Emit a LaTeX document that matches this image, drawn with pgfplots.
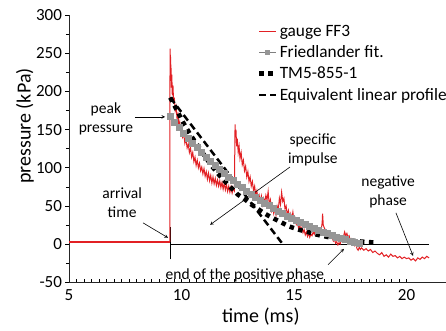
\documentclass[border=0pt]{standalone}
\usepackage{pgfplots}
\pgfplotsset{compat=1.18}
\usepackage{fontspec}
\setmainfont{Carlito}
\definecolor{gred}{RGB}{226,32,36}
\definecolor{fgray}{RGB}{150,150,150}
\definecolor{lgray}{RGB}{128,128,128}
\begin{document}
\begin{tikzpicture}
\begin{axis}[
  name=ax,
  scale only axis,
  width=376.9bp, height=267.2bp,
  xmin=5, xmax=21.75, ymin=-50, ymax=300,
  axis x line=bottom, axis y line=left,
  axis line style={-, line width=0.9bp, black!85},
  xtick={5,10,15,20}, ytick={-50,0,50,100,150,200,250,300},
  minor x tick num=14, minor y tick num=1,
  tick align=outside,
  major tick length=3.5bp, minor tick length=3bp,
  x tick style={yshift=3.2bp, line width=0.7bp, black},
  y tick style={line width=0.7bp, black},
  tick label style={font=\fontsize{17bp}{20bp}\selectfont},
  /pgf/number format/assume math mode=true,
  xlabel={time (ms)}, ylabel={pressure (kPa)},
  label style={font=\fontsize{20bp}{24bp}\selectfont},
  xlabel style={at={(axis description cs:0.509,-0.127)}, anchor=center},
  ylabel style={at={(axis description cs:-0.117,0.585)}, anchor=center},
  legend style={at={(axis cs:13.35,289)}, anchor=north west, draw=none, fill=none,
    font=\fontsize{17.3bp}{20bp}\selectfont, inner sep=0pt, row sep=5.5bp,
    nodes={inner sep=1.2bp}},
  legend cell align=left,
  clip=false,
]
% zero line and arrival marker
\addplot[black, line width=0.6bp, forget plot] coordinates {(9.49,0) (21.0,0)};
\addplot[black, line width=0.8bp, forget plot] coordinates {(9.49,-20) (9.49,23)};
% gauge FF3, before arrival (noise band)
\addplot[gred, line width=2.6bp, forget plot] coordinates {(5.0,3)(9.48,3)};
% gauge FF3
\addplot[gred, line width=1bp, legend image code/.code={\draw[draw=gred, line width=1.3bp] (0cm,0cm) -- (0.6cm,0cm);}] coordinates {
(9.48,3)
(9.49,256)(9.50,230)(9.51,248)(9.52,215)(9.53,235)(9.55,205)(9.57,222)(9.59,195)(9.62,208)
(9.65,185)(9.68,192)(9.72,175)(9.76,180)(9.80,165)(9.84,170)(9.88,155)(9.92,160)(9.96,148)
(10.00,152)(10.05,140)(10.10,144)(10.15,132)(10.20,138)(10.25,126)(10.30,131)(10.35,120)
(10.40,126)(10.45,114)(10.50,120)(10.55,108)(10.60,114)(10.65,103)(10.70,110)(10.75,100)
(10.80,106)(10.85,96)(10.90,101)(10.95,92)(11.00,99)(11.05,89)(11.10,95)(11.15,85)(11.20,93)
(11.25,83)(11.30,90)(11.35,80)(11.40,88)(11.45,79)(11.50,86)(11.55,77)(11.60,84)(11.65,76)
(11.70,83)(11.75,74)(11.80,81)(11.85,72)(11.90,80)(11.95,71)(12.00,78)(12.05,69)(12.10,76)
(12.15,68)(12.20,75)(12.25,67)(12.30,73)(12.35,70)(12.38,157)(12.40,140)(12.42,150)(12.45,128)
(12.48,138)(12.52,120)(12.56,128)(12.60,112)(12.65,120)(12.70,104)(12.75,110)(12.80,96)
(12.85,102)(12.90,88)(12.95,95)(13.00,82)(13.05,88)(13.10,76)(13.15,82)(13.20,70)(13.25,76)
(13.30,64)(13.35,70)(13.40,58)(13.45,64)(13.50,56)(13.55,63)(13.60,52)(13.65,60)(13.70,55)
(13.75,64)(13.80,58)(13.85,69)(13.90,52)(13.95,58)(14.00,44)(14.05,50)(14.10,40)(14.15,47)
(14.20,38)(14.25,50)(14.30,45)(14.35,60)(14.40,52)(14.45,68)(14.50,56)(14.55,60)(14.60,46)
(14.65,50)(14.70,38)(14.75,44)(14.80,35)(14.85,40)(14.90,33)(14.95,42)(15.00,30)(15.05,34)
(15.10,26)(15.15,30)(15.20,21)(15.25,26)(15.30,18)(15.35,22)(15.40,15)(15.45,19)(15.50,12)
(15.55,16)(15.60,10)(15.65,14)(15.70,9)(15.75,13)(15.80,11)(15.85,16)(15.90,13)(15.95,19)
(16.00,15)(16.05,19)(16.10,14)(16.15,18)(16.20,16)(16.25,28)(16.27,40)(16.30,25)(16.35,21)
(16.40,18)(16.45,15)(16.50,17)(16.55,11)(16.60,14)(16.65,8)(16.70,10)(16.75,4)(16.80,6)
(16.85,1)(16.90,3)(16.95,-1)(17.00,2)(17.05,0)(17.10,5)(17.15,6)(17.20,10)(17.25,16)(17.30,11)
(17.35,14)(17.40,9)(17.45,11)(17.50,5)(17.55,7)(17.60,2)(17.65,3)(17.70,-2)(17.75,0)(17.80,-6)
(17.85,-8)(17.90,-4)(17.95,-7)(18.00,-5)(18.1,-8)(18.2,-6)(18.3,-9)(18.4,-7)(18.5,-11)(18.6,-9)
(18.7,-12)(18.8,-14)(18.9,-11)(19.0,-16)(19.1,-14)(19.2,-17)(19.3,-13)(19.4,-16)(19.5,-15)
(19.6,-18)(19.7,-16)(19.8,-19)(19.9,-17)(20.0,-19)(20.1,-18)(20.2,-21)(20.3,-19)(20.4,-22)
(20.5,-18)(20.6,-20)(20.7,-17)(20.8,-19)(20.9,-16)(21.0,-18)
};
\addlegendentry{gauge FF3}
% Friedlander fit
\addplot[lgray, line width=0.8bp, mark=square*, mark size=3bp, mark options={fill=fgray, draw=fgray},
  legend image post style={mark size=2bp}] coordinates {
(9.5,167.0)(9.7,159.6)(9.9,152.5)(10.1,145.5)(10.3,138.8)(10.5,132.4)(10.7,126.1)(10.9,120.0)
(11.1,114.2)(11.3,108.5)(11.5,103.0)(11.7,97.7)(11.9,92.6)(12.1,87.6)(12.3,82.9)(12.5,78.3)
(12.7,73.8)(12.9,69.5)(13.1,65.3)(13.3,61.3)(13.5,57.4)(13.7,53.7)(13.9,50.1)(14.1,46.6)
(14.3,43.3)(14.5,40.0)(14.7,36.9)(14.9,33.9)(15.1,31.0)(15.3,28.2)(15.5,25.6)(15.7,23.0)
(15.9,20.5)(16.1,18.1)(16.3,15.8)(16.5,13.6)(16.7,11.5)(16.9,9.4)(17.1,7.5)(17.3,5.6)
(17.5,3.8)(17.7,2.1)(17.9,0.4)
};
\addlegendentry{Friedlander fit.}
% TM5-855-1
\addplot[black, line width=4.5bp, dash pattern=on 4.5bp off 4.5bp, line cap=butt] coordinates {
(9.5,192)(9.8,175)(10.1,158)(10.4,143)(10.7,130)(11.0,117)(11.3,104)(11.6,93)(11.9,83)
(12.2,74)(12.5,65)(12.8,59)(13.1,52)(13.4,46)(13.7,40)(14.0,35)(14.4,29)(14.8,23)(15.2,19)
(15.6,16)(16.0,12.5)(16.4,10)(16.8,7.5)(17.2,5.8)(17.6,4.5)(18.0,3.3)(18.4,2.5)(18.7,2)
};
\addlegendentry{TM5-855-1}
% Equivalent linear profile
\addplot[black, line width=2.5bp, dash pattern=on 7bp off 4bp] coordinates {(9.5,192)(14.5,0)};
\addlegendentry{Equivalent linear profile}
% annotations
\begin{scope}[font=\fontsize{15.5bp}{19bp}\selectfont]
\node[align=center] at (axis cs:6.64,164.7) {peak\\pressure};
\draw[-stealth, line width=0.6bp] (axis cs:7.93,166.7) -- (axis cs:9.27,166.7);
\node[align=center] at (axis cs:7.36,54) {arrival\\time};
\draw[-stealth, line width=0.6bp] (axis cs:8.29,27.9) -- (axis cs:9.4,8.3);
\node[align=center] at (axis cs:15.84,124) {specific\\impulse};
\draw[-stealth, line width=0.6bp] (axis cs:14.82,101) -- (axis cs:11.27,25.3);
\node at (axis cs:12.82,-41.5) {end of the positive phase};
\draw[-stealth, line width=0.6bp] (axis cs:16.51,-27) -- (axis cs:17.22,-6.2);
\node[align=center] at (axis cs:19.18,67.9) {negative\\phase};
\draw[-stealth, line width=0.6bp] (axis cs:19.53,41) -- (axis cs:20.29,-15.3);
\end{scope}
\end{axis}
\pgfresetboundingbox
\path[use as bounding box] ([xshift=-69bp,yshift=-48.7bp]ax.south west) rectangle ([xshift=377bp,yshift=282.3bp]ax.south west);
\end{tikzpicture}
\end{document}
